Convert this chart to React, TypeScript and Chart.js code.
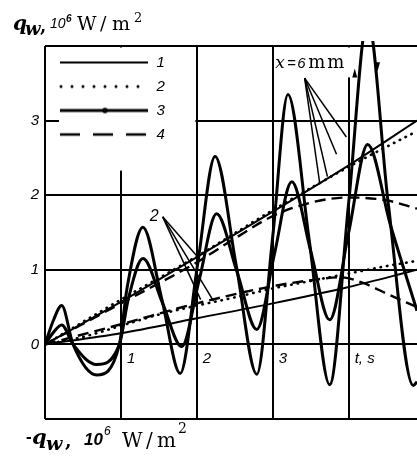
import React, { useEffect, useRef } from "react";
import { Chart, registerables } from "chart.js";

Chart.register(...registerables);

// ---- tick labels / legend names ----
const xTickLabels = ["", "1", "2", "3", "t, s"];
const yTickLabels = ["", "0", "1", "2", "3", ""];
const legendNames = ["1", "2", "3", "4"];

// ---- curve 1 (solid) ----
const c1UpperT = [0, 1, 2, 3, 4, 4.9];
const c1UpperQ = [0, 0.57, 1.17, 1.78, 2.4, 3.0];
const c1LowerT = [0, 1, 2, 3, 4, 4.9];
const c1LowerQ = [0, 0.15, 0.35, 0.55, 0.77, 1.0];

// ---- curve 2 (dotted) ----
const c2UpperT = [0, 1, 2, 3, 4, 4.9];
const c2UpperQ = [0, 0.6, 1.18, 1.8, 2.38, 2.86];
const c2LowerT = [0, 0.5, 1, 1.5, 2, 2.5, 3, 3.5, 4, 4.5, 4.9];
const c2LowerQ = [0, 0.1, 0.25, 0.4, 0.52, 0.63, 0.75, 0.85, 0.95, 1.05, 1.12];

// ---- curve 3 (oscillating) ----
const c3BigT = [0, 0.11, 0.22, 0.37, 0.68, 0.98, 1.08, 1.29, 1.54, 1.78, 2.01, 2.24, 2.52, 2.79, 3.0, 3.2, 3.48, 3.75, 4.0, 4.25, 4.52, 4.85, 4.9];
const c3BigQ = [0, 0.32, 0.52, 0, -0.41, 0, 0.75, 1.57, 0.6, -0.39, 1.07, 2.52, 1.05, -0.4, 1.45, 3.35, 1.4, -0.54, 1.9, 4.35, 1.9, -0.55, -0.5];
const c3SmallT = [0, 0.11, 0.22, 0.37, 0.68, 0.98, 1.1, 1.29, 1.55, 1.8, 2.03, 2.26, 2.53, 2.79, 3.02, 3.25, 3.5, 3.75, 4.0, 4.25, 4.55, 4.9];
const c3SmallQ = [0, 0.16, 0.26, 0, -0.27, 0, 0.62, 1.15, 0.55, -0.03, 0.86, 1.75, 0.97, 0.2, 1.2, 2.18, 1.25, 0.33, 1.5, 2.68, 1.6, 0.45];

// ---- curve 4 (dashed) ----
const c4UpperT = [0, 1, 2, 2.5, 3, 3.5, 4, 4.5, 4.9];
const c4UpperQ = [0, 0.55, 1.1, 1.42, 1.72, 1.9, 1.97, 1.93, 1.82];
const c4LowerT = [0, 1, 2, 3, 3.5, 3.9, 4.2, 4.5, 4.9];
const c4LowerQ = [0, 0.27, 0.55, 0.78, 0.86, 0.9, 0.82, 0.68, 0.5];

// ---- annotations (data coordinates) ----
const noteX6Anchor = [3.02, 3.7];
const noteX6From = [3.42, 3.57];
const noteX6To = [[3.97, 2.78], [3.84, 2.55], [3.72, 2.25], [3.62, 2.15]];
const note2Anchor = [1.38, 1.66];
const note2From = [1.55, 1.71];
const note2To = [[2.03, 1.15], [2.22, 0.58], [2.05, 0.6]];
const arrowUp = [4.08, 3.63];
const arrowDown = [4.38, 3.73];

const pts = (t: number[], q: number[]) => t.map((x, i) => ({ x, y: q[i] }));

const SANS = '"Liberation Sans", Arial, sans-serif';
const SERIF = '"DejaVu Serif", serif';

function makeSample(kind: number): HTMLCanvasElement {
  const c = document.createElement("canvas");
  c.width = 95;
  c.height = 10;
  const g = c.getContext("2d")!;
  g.strokeStyle = "#000";
  g.fillStyle = "#000";
  const y = 5, x0 = 6, x1 = 94;
  const line = () => {
    g.beginPath();
    g.moveTo(x0, y);
    g.lineTo(x1, y);
    g.stroke();
  };
  if (kind === 0) {
    g.lineWidth = 2;
    line();
  } else if (kind === 1) {
    for (let x = x0 + 1; x <= x1; x += 11) {
      g.beginPath();
      g.arc(x, y, 1.5, 0, Math.PI * 2);
      g.fill();
    }
  } else if (kind === 2) {
    g.lineWidth = 3;
    line();
    g.beginPath();
    g.arc(x0 + 45, y, 2.8, 0, Math.PI * 2);
    g.fill();
  } else {
    g.lineWidth = 2.5;
    g.setLineDash([20, 13]);
    line();
  }
  return c;
}

type Run = { t: string; f: string; x: number; y: number };
function drawRuns(ctx: CanvasRenderingContext2D, runs: Run[]) {
  runs.forEach((r) => {
    ctx.font = r.f;
    ctx.fillText(r.t, r.x, r.y);
  });
}

const overlay = {
  id: "overlay",
  afterLayout(chart: any) {
    const lg = chart.legend;
    const a = chart.chartArea;
    if (lg && a) {
      const w = lg.width, h = lg.height;
      lg.left = a.left;
      lg.top = a.top;
      lg.right = a.left + w;
      lg.bottom = a.top + h;
    }
  },
  beforeDatasetsDraw(chart: any) {
    const { ctx, chartArea: a, scales } = chart;
    const xs = scales.x, ys = scales.y;
    ctx.save();
    ctx.fillStyle = "#fff";
    const l = a.left + 14;
    const r = xs.getPixelForValue(2) - 1.5;
    const t = a.top + 1.5;
    const b = ys.getPixelForValue(2.33);
    ctx.fillRect(l, t, r - l, b - t);
    const ax = xs.getPixelForValue(noteX6Anchor[0]);
    const ay = ys.getPixelForValue(noteX6Anchor[1]);
    ctx.fillRect(ax + 0.5, t, 80, ay + 9 - t);
    ctx.restore();
    if (chart.legend) chart.legend.draw();
  },
  afterDatasetsDraw(chart: any) {
    const { ctx, scales } = chart;
    const X = (v: number) => scales.x.getPixelForValue(v);
    const Y = (v: number) => scales.y.getPixelForValue(v);
    ctx.save();
    ctx.strokeStyle = "#000";
    ctx.fillStyle = "#000";
    ctx.lineWidth = 1.5;
    noteX6To.forEach((p) => {
      ctx.beginPath();
      ctx.moveTo(X(noteX6From[0]), Y(noteX6From[1]));
      ctx.lineTo(X(p[0]), Y(p[1]));
      ctx.stroke();
    });
    note2To.forEach((p) => {
      ctx.beginPath();
      ctx.moveTo(X(note2From[0]), Y(note2From[1]));
      ctx.lineTo(X(p[0]), Y(p[1]));
      ctx.stroke();
    });
    // direction arrowheads
    const ux = X(arrowUp[0]), uy = Y(arrowUp[1]);
    ctx.beginPath();
    ctx.moveTo(ux, uy - 5);
    ctx.lineTo(ux - 2.5, uy + 4);
    ctx.lineTo(ux + 2.5, uy + 4);
    ctx.closePath();
    ctx.fill();
    const dx = X(arrowDown[0]), dy = Y(arrowDown[1]);
    ctx.beginPath();
    ctx.moveTo(dx, dy + 5);
    ctx.lineTo(dx - 2.5, dy - 4);
    ctx.lineTo(dx + 2.5, dy - 4);
    ctx.closePath();
    ctx.fill();

    ctx.textAlign = "left";
    ctx.textBaseline = "alphabetic";
    const ax = X(noteX6Anchor[0]), ay = Y(noteX6Anchor[1]);
    drawRuns(ctx, [
      { t: "x", f: `italic 17px ${SERIF}`, x: ax + 1, y: ay },
      { t: "=", f: `15px ${SANS}`, x: ax + 13, y: ay },
      { t: "6", f: `italic 15px ${SANS}`, x: ax + 23, y: ay },
      { t: "m", f: `18px ${SERIF}`, x: ax + 34, y: ay },
      { t: "m", f: `18px ${SERIF}`, x: ax + 53, y: ay },
    ]);
    drawRuns(ctx, [
      { t: "2", f: `italic 16px ${SANS}`, x: X(note2Anchor[0]), y: Y(note2Anchor[1]) },
    ]);
    ctx.restore();
  },
  afterDraw(chart: any) {
    const { ctx } = chart;
    ctx.save();
    ctx.fillStyle = "#000";
    ctx.textAlign = "left";
    ctx.textBaseline = "alphabetic";
    drawRuns(ctx, [
      { t: "q", f: `italic bold 20px ${SERIF}`, x: 13, y: 30 },
      { t: "w", f: `italic bold 18px ${SERIF}`, x: 25, y: 35 },
      { t: ",", f: `bold 18px ${SERIF}`, x: 40, y: 32 },
      { t: "10", f: `italic 14px ${SANS}`, x: 50, y: 28 },
      { t: "6", f: `italic bold 10px ${SANS}`, x: 66, y: 22 },
      { t: "W", f: `19px ${SERIF}`, x: 77, y: 30 },
      { t: "/", f: `19px ${SERIF}`, x: 100, y: 30 },
      { t: "m", f: `19px ${SERIF}`, x: 112, y: 30 },
      { t: "2", f: `13px ${SERIF}`, x: 134, y: 22 },
    ]);
    drawRuns(ctx, [
      { t: "-", f: `bold 17px ${SANS}`, x: 26, y: 442 },
      { t: "q", f: `italic bold 21px ${SERIF}`, x: 32, y: 444 },
      { t: "w", f: `italic bold 19px ${SERIF}`, x: 46, y: 450 },
      { t: ",", f: `bold 19px ${SERIF}`, x: 65, y: 447 },
      { t: "10", f: `italic bold 17px ${SANS}`, x: 84, y: 445 },
      { t: "6", f: `italic 12px ${SANS}`, x: 104, y: 435 },
      { t: "W", f: `20px ${SERIF}`, x: 122, y: 447 },
      { t: "/", f: `20px ${SERIF}`, x: 146, y: 447 },
      { t: "m", f: `20px ${SERIF}`, x: 157, y: 447 },
      { t: "2", f: `14px ${SERIF}`, x: 178, y: 433 },
    ]);
    ctx.restore();
  },
};

export default function App() {
  const ref = useRef<HTMLCanvasElement>(null);

  useEffect(() => {
    const canvas = ref.current;
    if (!canvas) return;
    const samples = [0, 1, 2, 3].map(makeSample);

    const base = {
      borderColor: "#000",
      backgroundColor: "#000",
      pointRadius: 0,
      fill: false,
      cubicInterpolationMode: "monotone",
      borderJoinStyle: "round",
    };
    const s1 = { ...base, borderWidth: 2 };
    const s2 = { ...base, borderWidth: 2.6, borderDash: [0.5, 6], borderCapStyle: "round" };
    const s3 = { ...base, borderWidth: 3, clip: { left: 0, top: 5, right: 0, bottom: 0 } };
    const s4 = { ...base, borderWidth: 2.4, borderDash: [11, 6] };

    const chart = new Chart(canvas, {
      type: "line",
      data: {
        datasets: [
          { label: "1", data: pts(c1UpperT, c1UpperQ), ...s1 },
          { label: "2", data: pts(c2UpperT, c2UpperQ), ...s2 },
          { label: "3", data: pts(c3BigT, c3BigQ), ...s3 },
          { label: "4", data: pts(c4UpperT, c4UpperQ), ...s4 },
          { label: "1b", data: pts(c1LowerT, c1LowerQ), ...s1 },
          { label: "2b", data: pts(c2LowerT, c2LowerQ), ...s2 },
          { label: "3b", data: pts(c3SmallT, c3SmallQ), ...s3 },
          { label: "4b", data: pts(c4LowerT, c4LowerQ), ...s4 },
        ] as any,
      },
      options: {
        animation: false,
        responsive: false,
        events: [],
        layout: { padding: { top: 46, bottom: 40, left: 0, right: 0 } },
        scales: {
          x: {
            type: "linear",
            min: 0,
            max: 4.9,
            position: { y: 0 } as any,
            grid: { color: "#000", lineWidth: 2, drawTicks: false },
            border: { display: false },
            ticks: {
              stepSize: 1,
              includeBounds: false,
              autoSkip: false,
              maxRotation: 0,
              align: "start",
              labelOffset: ((c: any) => (c.index === 4 ? 13 : 6)) as any,
              padding: 5,
              color: "#000",
              font: { family: SANS, size: 15, style: "italic" },
              callback: (_v: any, i: number) => xTickLabels[i] ?? "",
            },
          },
          y: {
            type: "linear",
            min: -1,
            max: 4,
            position: "left",
            afterFit: (s: any) => {
              s.width = 45;
            },
            grid: { color: "#000", lineWidth: 2, drawTicks: false },
            border: { display: false },
            ticks: {
              stepSize: 1,
              padding: 6,
              color: "#000",
              font: { family: SANS, size: 15, style: "italic" },
              callback: (_v: any, i: number) => yTickLabels[i] ?? "",
            },
          },
        },
        plugins: {
          tooltip: { enabled: false },
          title: { display: false },
          legend: {
            position: "chartArea",
            align: "start",
            fullSize: false,
            labels: {
              usePointStyle: true,
              pointStyleWidth: 95,
              padding: 9,
              color: "#000",
              font: { family: SANS, size: 15, style: "italic" },
              generateLabels: () =>
                legendNames.map((t, i) => ({
                  text: t,
                  pointStyle: samples[i],
                  datasetIndex: i,
                  fillStyle: "#000",
                  strokeStyle: "#000",
                  lineWidth: 0,
                  hidden: false,
                  fontColor: "#000",
                })),
            },
          } as any,
        },
      } as any,
      plugins: [overlay],
    });
    return () => chart.destroy();
  }, []);

  return (
    <div style={{ position: "fixed", left: 0, top: 0, width: 417, height: 459, background: "#fff" }}>
      <canvas ref={ref} width={417} height={459} style={{ display: "block" }} />
    </div>
  );
}
